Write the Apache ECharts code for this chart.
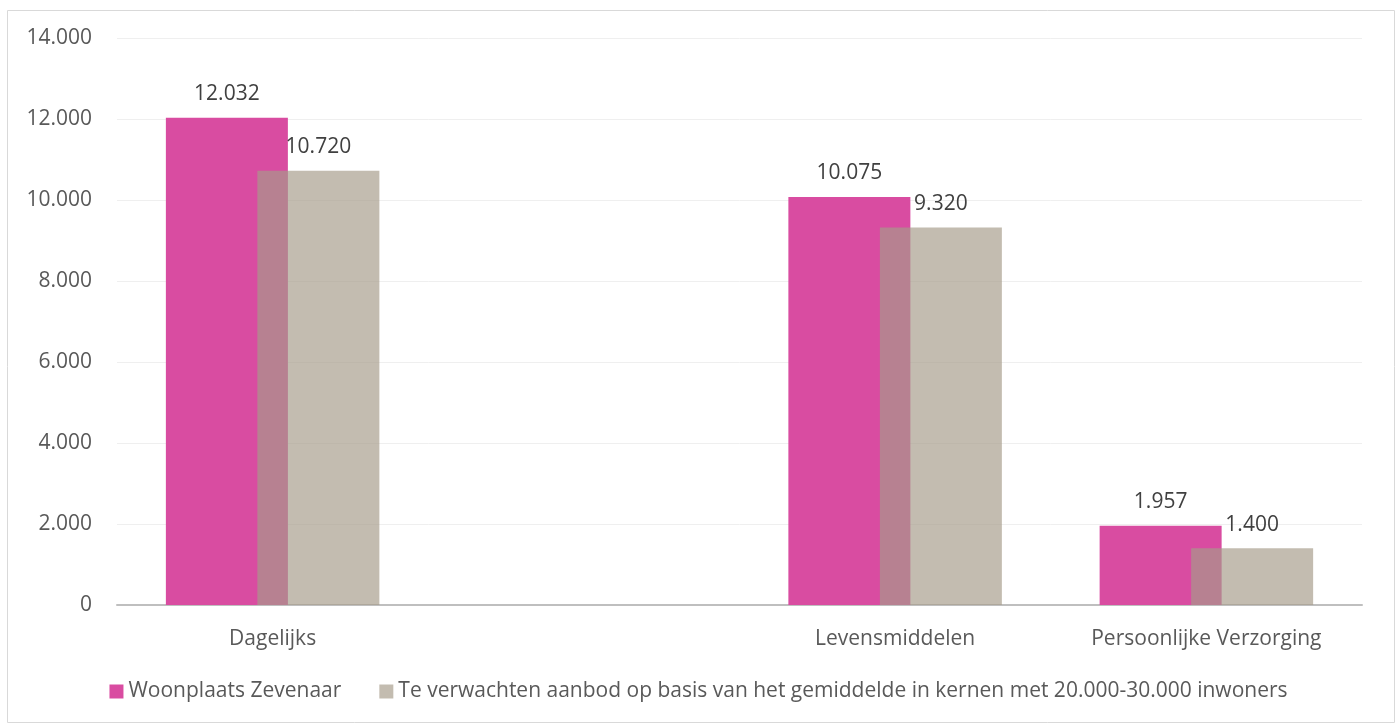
<!DOCTYPE html>
<html>
<head>
<meta charset="utf-8">
<script src="https://cdn.jsdelivr.net/npm/echarts@6/dist/echarts.min.js"></script>
<style>html,body{margin:0;padding:0;background:#fff;}#c{width:1397px;height:724px;}</style>
</head>
<body>
<div id="c"></div>
<script>
var categories = ['Dagelijks', '', 'Levensmiddelen', 'Persoonlijke Verzorging'];
var seriesNames = ['Woonplaats Zevenaar', 'Te verwachten aanbod op basis van het gemiddelde in kernen met 20.000-30.000 inwoners'];
var zevenaar = [12032, null, 10075, 1957];
var verwacht = [10720, null, 9320, 1400];
var yMin = 0, yMax = 14000, yInterval = 2000;

function fmt(v) {
  return String(Math.round(v)).replace(/\B(?=(\d{3})+(?!\d))/g, '.');
}
var FONT = 'Open Sans';
var FS = 21;
var chart = echarts.init(document.getElementById('c'));
chart.setOption({
  animation: false,
  textStyle: { fontFamily: FONT },
  graphic: [{
    type: 'rect', left: 5, top: 8,
    shape: { width: 1387, height: 712 },
    style: { fill: 'none', stroke: '#d9d9d9', lineWidth: 1 }, silent: true
  }],
  grid: { left: 117, right: 35, top: 38, bottom: 119, containLabel: false },
  legend: {
    bottom: 17, left: 'center', icon: 'rect', itemWidth: 14, itemHeight: 14, itemGap: 38,
    textStyle: { fontFamily: FONT, fontSize: FS, color: '#595959' },
    data: seriesNames
  },
  xAxis: {
    type: 'category', data: categories,
    axisLine: { lineStyle: { color: '#bfbfbf', width: 2 } },
    axisTick: { show: false },
    axisLabel: { fontFamily: FONT, fontSize: FS, color: '#595959', margin: 24, interval: 0 }
  },
  yAxis: {
    type: 'value', min: yMin, max: yMax, interval: yInterval,
    axisLine: { show: false }, axisTick: { show: false },
    splitLine: { lineStyle: { color: '#efefef', width: 1 } },
    axisLabel: { fontFamily: FONT, fontSize: FS, color: '#595959', margin: 25, formatter: fmt }
  },
  series: [{
    name: seriesNames[0], type: 'bar', data: zevenaar, barWidth: 122, barGap: '-25%',
    itemStyle: { color: '#d94ca1' },
    label: { show: true, position: 'top', distance: 13, fontFamily: FONT, fontSize: FS, color: '#404040', formatter: function (p) { return fmt(p.value); } }
  }, {
    name: seriesNames[1], type: 'bar', data: verwacht, barWidth: 122, barGap: '-25%',
    itemStyle: { color: 'rgba(166,155,137,0.67)' },
    label: { show: true, position: 'top', distance: 13, fontFamily: FONT, fontSize: FS, color: '#404040', formatter: function (p) { return fmt(p.value); } }
  }]
});
</script>
</body>
</html>
